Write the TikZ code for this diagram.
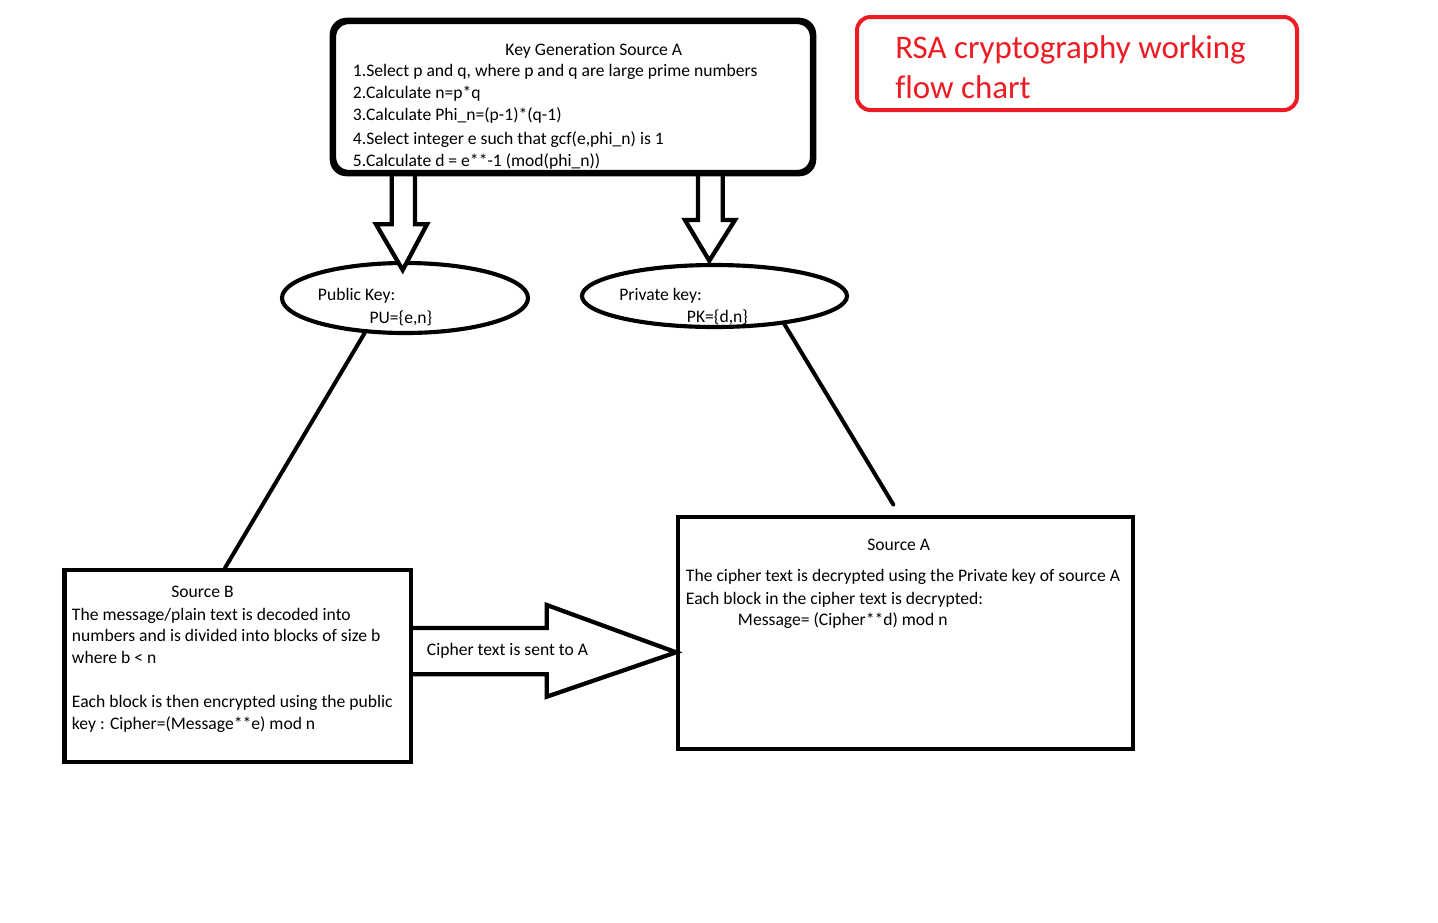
\documentclass[tikz,border=0pt]{standalone}
\usepackage{fontspec}
\setmainfont{Carlito}[Ligatures=NoCommon]
\usetikzlibrary{shapes.geometric}
\definecolor{rsared}{RGB}{237,28,36}
\begin{document}
\begin{tikzpicture}[x=0.75pt,y=-0.75pt,
  box/.style={draw, line width=3.2pt, inner sep=0, fill=white},
  oval/.style={draw, ellipse, line width=3.1pt, inner sep=0},
  txt/.style={font=\fontsize{13.2}{15}\selectfont, inner sep=0, anchor=base west},
  ttl/.style={font=\fontsize{24.7}{28}\selectfont, inner sep=0, anchor=base west, text=rsared},
  conn/.style={line width=3pt, line cap=round},
  blockarrow/.style={draw, line width=3.2pt, line join=miter, fill=white}]
\useasboundingbox (0,0) rectangle (1438,922);
\fill[white] (0,0) rectangle (1438,922);

% boxes
\node[box, rounded corners=11pt, minimum width=358.5pt, minimum height=112.5pt] (keygen) at (573,97) {};
\node[box, draw=rsared, line width=3pt, rounded corners=10pt, minimum width=330pt, minimum height=69.75pt] (title) at (1077,63.5) {};
\node[box, minimum width=260pt, minimum height=144pt] (srcB) at (237.7,666) {};
\node[box, minimum width=340.8pt, minimum height=174.2pt] (srcA) at (905.5,632.8) {};
\node[oval, minimum width=184.5pt, minimum height=52.5pt] (pub) at (405,298) {};
\node[oval, minimum width=198.75pt, minimum height=46.5pt] (priv) at (714.5,296) {};

% block arrows from key generation
\draw[blockarrow] (391.7,172) -- (391.7,224.3) -- (376,224.3) -- (402.7,270) -- (427,224.3) -- (415,224.3) -- (415,172);
\draw[blockarrow] (698,172) -- (698,220) -- (685,220) -- (709.3,260.7) -- (735,220) -- (722.7,220) -- (722.7,172);
\draw[line width=3.2pt, rounded corners=11pt] (keygen.north west) rectangle (keygen.south east);

% big arrow from Source B to Source A
\draw[blockarrow] (srcB.east |- 0,628) -- (546.7,628) -- (546.7,605) -- (srcA.west |- 0,652.3) -- (546.7,696.7) -- (546.7,674.3) -- (srcB.east |- 0,674.3);

% connectors
\draw[conn] (pub.-139) -- ([xshift=-9.5pt]srcB.north);
\coordinate (privend) at ([xshift=-9.15pt,yshift=7.5pt]srcA.north);
\draw[conn] (priv.-22.6) -- (privend);

% title
\node[ttl] (t1) at (895,58.3) {RSA cryptography working};
\node[ttl] (t2) at (895,98.3) {flow chart};

% key generation text
\node[txt, anchor=base] (kgt) at (593.8,55) {Key Generation Source A};
\node[txt] (kg1) at (352.7,76.7) {1.Select p and q, where p and q are large prime numbers};
\node[txt] (kg2) at (352.7,98.3) {2.Calculate n=p*q};
\node[txt] (kg3) at (352.7,120.3) {3.Calculate Phi\_n=(p-1)*(q-1)};
\node[txt] (kg4) at (352.7,144.3) {4.Select integer e such that gcf(e,phi\_n) is 1};
\node[txt] (kg5) at (352.7,166.7) {5.Calculate d = e**-1 (mod(phi\_n))};

% keys
\node[txt] (pk1) at (317.7,300.7) {Public Key:};
\node[txt] (pk2) at (369.3,323.3) {PU=\{e,n\}};
\node[txt] (vk1) at (619,300) {Private key:};
\node[txt] (vk2) at (686.7,322.3) {PK=\{d,n\}};

% source B text
\node[txt, anchor=base] (sbt) at (202.5,597.7) {Source B};
\node[txt] (sb1) at (71.7,620) {The message/plain text is decoded into};
\node[txt] (sb2) at (71.7,641.7) {numbers and is divided into blocks of size b};
\node[txt] (sb3) at (71.7,663.3) {where b < n};
\node[txt] (sb4) at (71.7,707.7) {Each block is then encrypted using the public};
\node[txt] (sb5) at (71.7,729.3) {key : Cipher=(Message**e) mod n};

% arrow label
\node[txt] (ct) at (426.7,655) {Cipher text is sent to A};

% source A text
\node[txt, anchor=base] (sat) at (898.7,550) {Source A};
\node[txt] (sa1) at (685.7,581.7) {The cipher text is decrypted using the Private key of source A};
\node[txt] (sa2) at (685.7,604) {Each block in the cipher text is decrypted:};
\node[txt] (sa3) at (737.7,625.7) {Message= (Cipher**d) mod n};
\end{tikzpicture}
\end{document}
